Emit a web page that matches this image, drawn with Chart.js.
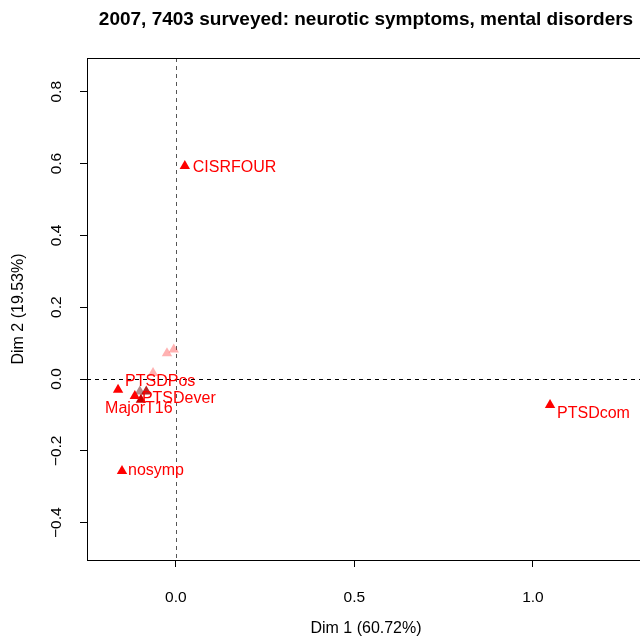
<!DOCTYPE html>
<html><head><meta charset="utf-8">
<script src="https://cdn.jsdelivr.net/npm/chart.js@4"></script>
<style>
html{margin:0;padding:0;overflow:hidden;background:#fff;width:640px;height:636px}
body{margin:0;padding:0;background:#fff;width:646px;height:636px}
#c{display:block}
</style></head>
<body>
<canvas id="c" width="646" height="636" style="width:646px;height:636px"></canvas>
<script>
// ---- data ----
const categories = ['', '', '', '', '', 'PTSDever', 'PTSDPos', 'MajorT16', 'nosymp', 'CISRFOUR', 'PTSDcom'];
const dim1 = [-0.006, -0.025, -0.064, -0.101, -0.083, -0.098, -0.162, -0.115, -0.151, 0.025, 1.048];
const dim2 = [0.082, 0.072, 0.017, -0.035, -0.035, -0.058, -0.030, -0.047, -0.256, 0.593, -0.072];
const xTicks = [0.0, 0.5, 1.0];
const yTicks = [-0.4, -0.2, 0.0, 0.2, 0.4, 0.6, 0.8];
const xTickLabels = ['0.0', '0.5', '1.0'];
const yTickLabels = ['\u22120.4', '\u22120.2', '0.0', '0.2', '0.4', '0.6', '0.8'];
const titleText = '2007, 7403 surveyed: neurotic symptoms, mental disorders';
const xTitle = 'Dim 1 (60.72%)';
const yTitle = 'Dim 2 (19.53%)';

const FONT = '"Liberation Sans", Arial, Helvetica, sans-serif';
const pointColors = [
  'rgba(255,0,0,0.3)', 'rgba(255,0,0,0.3)', 'rgba(255,0,0,0.3)',
  'rgba(120,40,40,0.55)', 'rgba(170,0,0,0.85)', 'rgb(200,0,0)',
  '#ff0000', '#ff0000', '#ff0000', '#ff0000', '#ff0000'
];
// label placement relative to each point (pixels)
const labelPlace = {
  'PTSDever': {dx: 1, dy: -1, align: 'left'},
  'PTSDPos': {dx: 7, dy: -8, align: 'left'},
  'MajorT16': {dx: 4, dy: 13, align: 'center'},
  'nosymp': {dx: 6, dy: 0, align: 'left'},
  'CISRFOUR': {dx: 8, dy: 2, align: 'left'},
  'PTSDcom': {dx: 7, dy: 9, align: 'left'}
};

const points = dim1.map((x, i) => ({x: x, y: dim2[i]}));

const decor = {
  id: 'decor',
  beforeDatasetsDraw(chart) {
    const {ctx, chartArea: a, scales: {x, y}} = chart;
    ctx.save();
    ctx.beginPath();
    ctx.rect(a.left, a.top, a.right - a.left, a.bottom - a.top);
    ctx.clip();
    ctx.lineWidth = 1;
    ctx.setLineDash([4, 4]);
    const px = Math.round(x.getPixelForValue(0)) + 0.5;
    ctx.strokeStyle = '#555';
    ctx.beginPath(); ctx.moveTo(px, a.top); ctx.lineTo(px, a.bottom); ctx.stroke();
    const py = Math.round(y.getPixelForValue(0)) + 0.5;
    ctx.strokeStyle = '#000';
    ctx.beginPath(); ctx.moveTo(a.left, py); ctx.lineTo(a.right, py); ctx.stroke();
    ctx.restore();
  },
  afterDraw(chart) {
    const {ctx, chartArea: a, scales: {x, y}} = chart;
    ctx.save();
    ctx.strokeStyle = '#000';
    ctx.lineWidth = 1;
    ctx.setLineDash([]);
    ctx.strokeRect(Math.round(a.left) + 0.5, Math.round(a.top) + 0.5,
                   Math.round(a.right - a.left), Math.round(a.bottom - a.top));
    ctx.fillStyle = '#000';
    ctx.textAlign = 'center';
    ctx.textBaseline = 'middle';
    ctx.font = 'bold 19px ' + FONT;
    ctx.fillText(titleText, (a.left + a.right) / 2, 20);
    ctx.font = '15.5px ' + FONT;
    xTicks.forEach((v, i) => ctx.fillText(xTickLabels[i], x.getPixelForValue(v), a.bottom + 38));
    yTicks.forEach((v, i) => {
      ctx.save();
      ctx.translate(a.left - 30, y.getPixelForValue(v));
      ctx.rotate(-Math.PI / 2);
      ctx.fillText(yTickLabels[i], 0, 0);
      ctx.restore();
    });
    ctx.font = '16px ' + FONT;
    ctx.fillText(xTitle, (a.left + a.right) / 2, a.bottom + 69);
    ctx.save();
    ctx.translate(a.left - 68, (a.top + a.bottom) / 2);
    ctx.rotate(-Math.PI / 2);
    ctx.fillText(yTitle, 0, 0);
    ctx.restore();
    ctx.font = '16px ' + FONT;
    ctx.fillStyle = '#ff0000';
    const meta = chart.getDatasetMeta(0);
    meta.data.forEach((el, i) => {
      const name = categories[i];
      if (!name) return;
      const p = labelPlace[name] || {dx: 6, dy: 0, align: 'left'};
      ctx.textAlign = p.align;
      ctx.fillText(name, el.x + p.dx, el.y + p.dy);
    });
    ctx.restore();
  }
};

new Chart(document.getElementById('c'), {
  type: 'scatter',
  data: {
    datasets: [{
      data: points,
      pointStyle: 'triangle',
      pointRadius: 6,
      pointHoverRadius: 6,
      borderWidth: 0,
      backgroundColor: pointColors,
      borderColor: pointColors
    }]
  },
  options: {
    responsive: false,
    animation: false,
    devicePixelRatio: 1,
    layout: {autoPadding: false, padding: {left: 0, right: 1, top: 58, bottom: 0}},
    plugins: {
      legend: {display: false},
      tooltip: {enabled: false},
      title: {display: false}
    },
    scales: {
      x: {
        type: 'linear',
        min: -0.249,
        max: 1.314,
        afterBuildTicks: s => { s.ticks = xTicks.map(v => ({value: v})); },
        afterFit: s => { s.height = 76; },
        grid: {drawOnChartArea: false, drawTicks: true, tickLength: 7, color: '#000'},
        border: {display: false},
        ticks: {display: false}
      },
      y: {
        type: 'linear',
        min: -0.504,
        max: 0.894,
        afterBuildTicks: s => { s.ticks = yTicks.map(v => ({value: v})); },
        afterFit: s => { s.width = 87; },
        grid: {drawOnChartArea: false, drawTicks: true, tickLength: 7, color: '#000'},
        border: {display: false},
        ticks: {display: false}
      }
    }
  },
  plugins: [decor]
});
</script>
</body></html>
